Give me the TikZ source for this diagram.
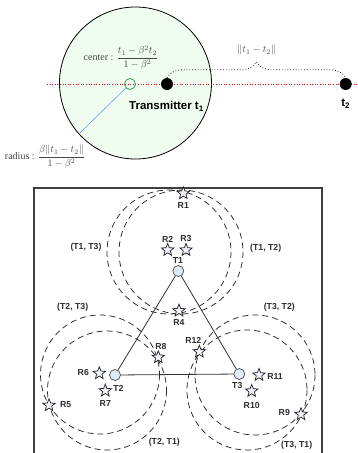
\documentclass[tikz,border=0pt]{standalone}
\usepackage{fontspec}
\setmainfont{Liberation Serif}
\newfontfamily\lblfont{Liberation Sans}
\usetikzlibrary{shapes.geometric,decorations.pathreplacing}
\definecolor{circfill}{RGB}{240,252,240}
\definecolor{grnc}{RGB}{50,160,90}
\definecolor{blul}{RGB}{110,160,235}
\definecolor{tfill}{RGB}{225,233,245}
\definecolor{sfill}{RGB}{240,244,250}
\definecolor{txtg}{RGB}{70,70,70}
\definecolor{lblc}{RGB}{45,45,45}
\tikzset{
  dot/.style={circle,fill=black,minimum size=12pt,inner sep=0pt},
  gcirc/.style={circle,draw=grnc,line width=0.8pt,minimum size=11pt,inner sep=0pt},
  mathlbl/.style={text=txtg,inner sep=0pt,font=\fontsize{10}{12}\selectfont},
  tlabel/.style={font=\lblfont\bfseries\fontsize{11.5}{13}\selectfont,inner sep=0pt},
  lbl/.style={font=\lblfont\bfseries\fontsize{8.7}{10}\selectfont,text=lblc,inner sep=0pt},
  tnode/.style={circle,draw=black!70,fill=tfill,line width=0.7pt,minimum size=11pt,inner sep=0pt},
  rstar/.style={star,star points=5,star point ratio=2.3,draw=black!85,fill=sfill,line width=0.75pt,minimum size=13pt,inner sep=0pt},
  dashcirc/.style={draw=black!85,line width=0.75pt,dash pattern=on 6pt off 4pt},
  triline/.style={draw=black!80,line width=0.8pt},
  boxline/.style={draw=black!75,line width=1.2pt}
}
\begin{document}
\begin{tikzpicture}[x=1pt,y=-1pt]
\useasboundingbox (0,0) rectangle (357,453);
% ---------- top part ----------
\draw[black,line width=0.8pt,fill=circfill] (135.5,83) circle (76);
\draw[red,dotted,line width=0.6pt] (47,84) -- (357,84);
\node[gcirc] (c) at (130,84) {};
\node[dot] (t1) at (167,84) {};
\node[dot] (t2) at (345.7,84) {};
\coordinate (redge) at (79.3,133.5);
\draw[blul,line width=0.6pt] (c) -- (redge);
\draw[black!85,dotted,line width=0.8pt,decorate,decoration={brace,amplitude=16pt,aspect=0.5}] (t1.north) -- (t2.north);
\node[mathlbl] (norm) at (256.7,50) {$\|t_1 - t_2\|$};
\node[mathlbl] (center) at (121,57.5) {center : $\displaystyle\frac{t_1-\beta^2 t_2}{1-\beta^2}$};
\node[mathlbl] (radius) at (45,157) {radius : $\displaystyle\frac{\beta\|t_1-t_2\|}{1-\beta^2}$};
\node[tlabel] (tx) at (166.5,106) {Transmitter t\textsubscript{1}};
\node[tlabel] (t2l) at (345.7,104) {t\textsubscript{2}};
% ---------- bottom part ----------
\draw[boxline] (34,188) rectangle (322,456);
\draw[dashcirc] (169,252) circle (62);
\draw[dashcirc] (181,252) circle (62);
\draw[dashcirc] (100,374.5) circle (59.5);
\draw[dashcirc] (107,390.5) circle (59.5);
\draw[dashcirc] (255,375) circle (60);
\draw[dashcirc] (247,390) circle (60);
\node[tnode] (T1) at (178.3,271) {};
\node[tnode] (T2) at (115,375) {};
\node[tnode] (T3) at (239.3,374) {};
\draw[triline] (T1) -- (T2);
\draw[triline] (T2) -- (T3);
\draw[triline] (T3) -- (T1);
\node[lbl] (T1l) at (178,261) {T1};
\node[lbl] (T2l) at (118.5,388) {T2};
\node[lbl] (T3l) at (237.3,385.7) {T3};
% stars
\node[rstar] (R1) at (183.3,193.3) {};
\node[rstar] (R2) at (167.7,250) {};
\node[rstar] (R3) at (186,250) {};
\node[rstar] (R4) at (179,310.7) {};
\node[rstar] (R5) at (49,405.3) {};
\node[rstar] (R6) at (99.3,373.3) {};
\node[rstar] (R7) at (105.3,390.7) {};
\node[rstar] (R8) at (158.3,357.3) {};
\node[rstar] (R9) at (301,414.3) {};
\node[rstar] (R10) at (251.7,391) {};
\node[rstar] (R11) at (259,375) {};
\node[rstar] (R12) at (199.3,351.7) {};
\node[lbl] at (183.3,205.7) {R1};
\node[lbl] at (167.7,239) {R2};
\node[lbl] at (186,239) {R3};
\node[lbl] at (179,323) {R4};
\node[lbl] at (65.7,405) {R5};
\node[lbl] at (83.3,372.7) {R6};
\node[lbl] at (105.3,404) {R7};
\node[lbl] at (161,346) {R8};
\node[lbl] at (284.3,412.3) {R9};
\node[lbl] at (251.7,405) {R10};
\node[lbl] at (275,376.7) {R11};
\node[lbl] at (193.3,340.7) {R12};
\node[lbl] at (86,247.7) {(T1, T3)};
\node[lbl] at (265.7,248) {(T1, T2)};
\node[lbl] at (72.7,307.3) {(T2, T3)};
\node[lbl] at (279.3,307.3) {(T3, T2)};
\node[lbl] at (164.3,442.3) {(T2, T1)};
\node[lbl] at (296.7,445) {(T3, T1)};
\end{tikzpicture}
\end{document}
